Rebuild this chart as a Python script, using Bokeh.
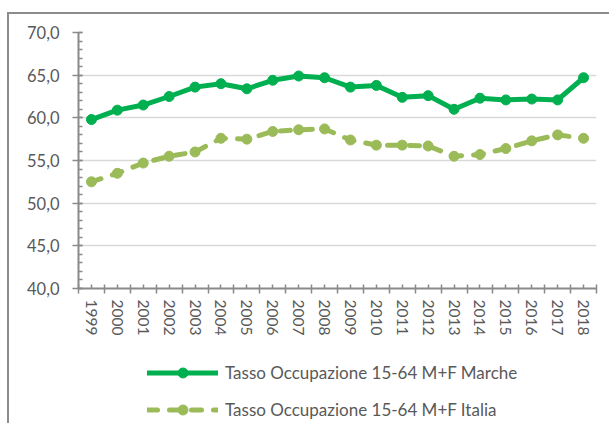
from bokeh.plotting import figure
from bokeh.layouts import column
from bokeh.models import FixedTicker, CustomJSTickFormatter, Legend, LegendItem, Range1d
from bokeh.embed import file_html
from bokeh.resources import INLINE

years = [1999, 2000, 2001, 2002, 2003, 2004, 2005, 2006, 2007, 2008,
         2009, 2010, 2011, 2012, 2013, 2014, 2015, 2016, 2017, 2018]
marche = [59.8, 60.9, 61.5, 62.5, 63.6, 64.0, 63.4, 64.4, 64.9, 64.7,
          63.6, 63.8, 62.4, 62.6, 61.0, 62.3, 62.1, 62.2, 62.1, 64.7]
italia = [52.5, 53.5, 54.7, 55.5, 56.0, 57.6, 57.5, 58.4, 58.6, 58.7,
          57.4, 56.8, 56.8, 56.7, 55.5, 55.7, 56.4, 57.3, 58.0, 57.6]
y_ticks = [40, 45, 50, 55, 60, 65, 70]
label_marche = "Tasso Occupazione 15-64 M+F Marche"
label_italia = "Tasso Occupazione 15-64 M+F Italia"

C_MARCHE = "#00B050"
C_ITALIA = "#9BBB59"
AXIS_C = "#8a8a8a"
TEXT_C = "#595959"
FONT = "Lato"

p = figure(width=600, height=331, output_backend="svg", toolbar_location=None,
           x_range=Range1d(years[0] - 0.5, years[-1] + 0.5),
           y_range=Range1d(y_ticks[0], y_ticks[-1]),
           min_border_left=69, min_border_right=13, min_border_top=18, min_border_bottom=57)
p.outline_line_color = None

# axes
minor_x = [years[0] - 0.5 + i for i in range(len(years) + 1)]
p.xaxis.ticker = FixedTicker(ticks=years, minor_ticks=minor_x)
p.xaxis.formatter = CustomJSTickFormatter(code="return tick.toFixed(0)")
p.xaxis.major_label_orientation = "vertical"
p.xaxis.major_tick_in = 4
p.xaxis.major_tick_out = 0
p.xaxis.minor_tick_in = 4
p.xaxis.minor_tick_out = 5
p.xaxis.major_label_standoff = 6
p.xaxis.major_label_text_font_size = "15.5px"

minor_y = [y_ticks[0] + i for i in range(y_ticks[-1] - y_ticks[0] + 1)]
p.yaxis.ticker = FixedTicker(ticks=y_ticks, minor_ticks=minor_y)
p.yaxis.formatter = CustomJSTickFormatter(code="return tick.toFixed(1).replace('.', ',')")
p.yaxis.major_tick_in = 4
p.yaxis.major_tick_out = 6
p.yaxis.minor_tick_in = 4
p.yaxis.minor_tick_out = 0
p.yaxis.major_label_standoff = 13
p.yaxis.major_label_text_font_size = "16.5px"

for ax in (p.xaxis, p.yaxis):
    ax.axis_line_color = AXIS_C
    ax.axis_line_width = 2
    ax.major_tick_line_color = AXIS_C
    ax.major_tick_line_width = 1.5
    ax.minor_tick_line_color = AXIS_C
    ax.minor_tick_line_width = 1.5
    ax.major_label_text_font = FONT
    ax.major_label_text_color = TEXT_C

p.xgrid.visible = False
p.ygrid.ticker = FixedTicker(ticks=y_ticks)
p.ygrid.grid_line_color = "#d9d9d9"
p.ygrid.grid_line_width = 1.5

# series
l1 = p.line(years, marche, line_color=C_MARCHE, line_width=5, line_join="round", line_cap="round")
s1 = p.scatter(years, marche, size=10, fill_color=C_MARCHE, line_color=C_MARCHE)
l2 = p.line(years, italia, line_color=C_ITALIA, line_width=5, line_dash="10 12",
            line_join="round", line_cap="round")
s2 = p.scatter(years, italia, size=10, fill_color=C_ITALIA, line_color=C_ITALIA)

# legend panel (separate canvas below the chart so it is not clipped by the plot frame);
# its ranges keep the series out of view so only the legend swatches show
q = figure(width=600, height=78, output_backend="svg", toolbar_location=None,
           x_range=Range1d(0, 1), y_range=Range1d(0, 1),
           min_border_left=0, min_border_right=0, min_border_top=0, min_border_bottom=0)
q.axis.visible = False
q.grid.visible = False
q.outline_line_color = None
ql1 = q.line(years, marche, line_color=C_MARCHE, line_width=5, line_cap="round")
qs1 = q.scatter(years, marche, size=10, fill_color=C_MARCHE, line_color=C_MARCHE)
ql2 = q.line(years, italia, line_color=C_ITALIA, line_width=5, line_dash="10 12", line_cap="round")
qs2 = q.scatter(years, italia, size=10, fill_color=C_ITALIA, line_color=C_ITALIA)

legend = Legend(items=[LegendItem(label=label_marche, renderers=[ql1, qs1]),
                       LegendItem(label=label_italia, renderers=[ql2, qs2])],
                location=(69, 1), orientation="vertical",
                glyph_width=71, glyph_height=25, label_height=25, spacing=12,
                label_standoff=7, padding=0, margin=0,
                border_line_alpha=0, background_fill_alpha=0,
                label_text_font=FONT, label_text_font_size="17px", label_text_color=TEXT_C)
q.add_layout(legend, "center")

layout = column(p, q, spacing=0,
                styles={"border-left": "2px solid #8c8c8c", "border-top": "2px solid #8c8c8c",
                        "margin-top": "12px", "margin-left": "7px"})

open("out.html", "w").write(file_html(layout, INLINE))
